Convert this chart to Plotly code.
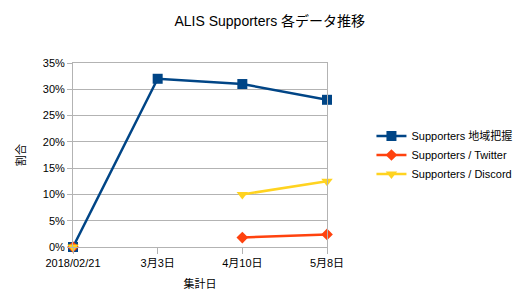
import plotly.graph_objects as go

categories = ["2018/02/21", "3月3日", "4月10日", "5月8日"]
supporters = [0.0, 0.32, 0.31, 0.28]
twitter = [0.0, None, 0.018, 0.024]
discord = [0.0, None, 0.10, 0.125]

FONT = "Liberation Sans, Arial, Noto Sans CJK JP, sans-serif"

fig = go.Figure()
fig.add_trace(go.Scatter(x=categories, y=supporters, name="Supporters 地域把握",
                         mode="lines+markers", line=dict(color="#004586", width=2.5),
                         marker=dict(symbol="square", size=10, color="#004586"),
                         cliponaxis=False, connectgaps=False))
fig.add_trace(go.Scatter(x=categories, y=twitter, name="Supporters / Twitter",
                         mode="lines+markers", line=dict(color="#ff420e", width=2.5),
                         marker=dict(symbol="diamond", size=9, color="#ff420e"),
                         cliponaxis=False, connectgaps=False))
fig.add_trace(go.Scatter(x=categories, y=discord, name="Supporters / Discord",
                         mode="lines+markers", line=dict(color="#ffd320", width=2.5),
                         marker=dict(symbol="triangle-down", size=10, color="#ffd320"),
                         cliponaxis=False, connectgaps=False))

fig.update_layout(
    width=529, height=307,
    margin=dict(l=73, r=190, t=63, b=60),
    paper_bgcolor="white", plot_bgcolor="white",
    font=dict(family=FONT, size=11, color="#000000"),
    title=dict(text="ALIS Supporters 各データ推移", x=0.51, xanchor="center",
               y=0.93, yanchor="middle", font=dict(size=14, family=FONT)),
    legend=dict(x=1.175, xanchor="left", y=0.5, yanchor="middle",
                font=dict(size=11, family=FONT), tracegroupgap=0,
                bgcolor="rgba(0,0,0,0)", itemwidth=30),
    showlegend=True,
)
fig.update_xaxes(type="category", range=[0, 3], showgrid=False,
                 showline=True, linecolor="#b3b3b3", linewidth=1, mirror=True,
                 ticks="outside", ticklen=6, tickcolor="#b3b3b3",
                 title=dict(text="集計日", font=dict(size=11), standoff=12),
                 tickfont=dict(size=11))
fig.update_yaxes(range=[0, 0.35], dtick=0.05, tickformat=".0%",
                 showgrid=True, gridcolor="#b3b3b3", gridwidth=1,
                 showline=True, linecolor="#b3b3b3", linewidth=1, mirror=True,
                 ticks="outside", ticklen=5, tickcolor="#b3b3b3",
                 zeroline=False,
                 title=dict(text="割合", font=dict(size=11), standoff=14),
                 tickfont=dict(size=11))

fig.write_html("out.html")
